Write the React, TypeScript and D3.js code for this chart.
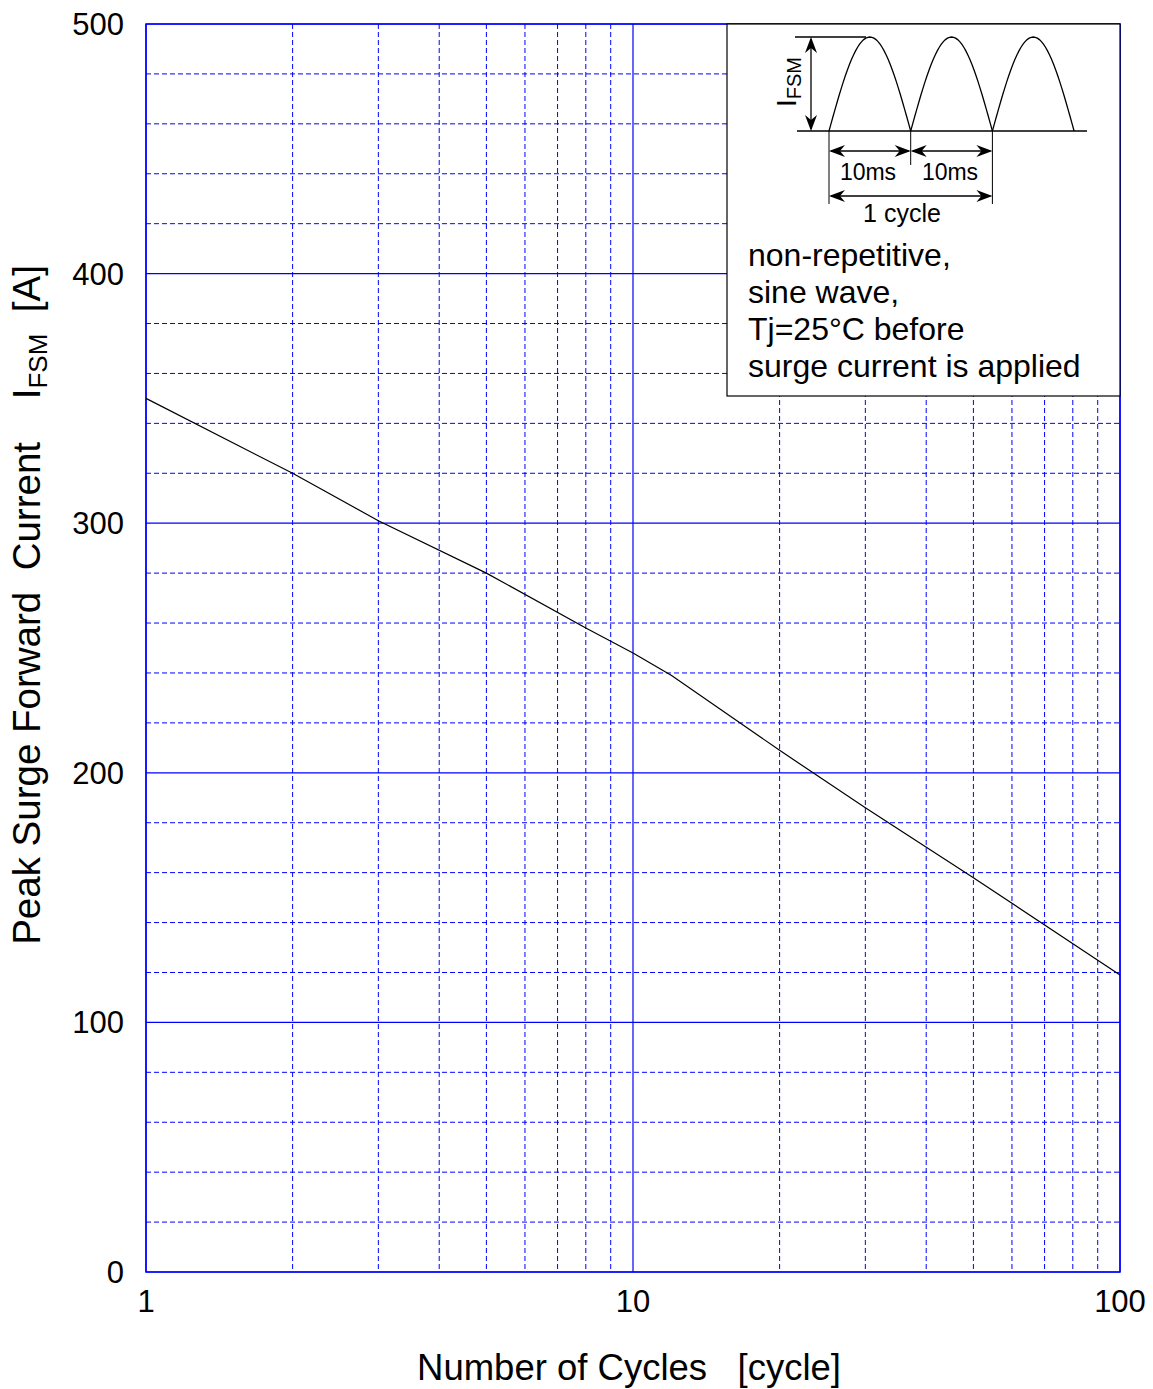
import React from 'react';
import * as d3 from 'd3';

// surge curve
const cycles = [1, 2, 3, 5, 8, 10, 12, 20, 30, 50, 100];
const current = [350, 320, 301, 280, 258, 248, 239, 209, 186, 158, 119];

const yTicks = [0, 100, 200, 300, 400, 500];
const yMinor = [20, 40, 60, 80, 120, 140, 160, 180, 220, 240, 260, 280, 320, 340, 360, 380, 420, 440, 460, 480];
const xMajor = [1, 10, 100];
const xMinor = [2, 3, 4, 5, 6, 7, 8, 9, 20, 30, 40, 50, 60, 70, 80, 90];

const noteLines = ['non-repetitive,', 'sine wave,', 'Tj=25°C before', 'surge current is applied'];

const W = 1153;
const H = 1389;
const m = { left: 146, right: 1120, top: 24, bottom: 1272 };
const blue = '#0000ff';
const font = '"Liberation Sans", Arial, sans-serif';

export default function App() {
  const x = d3.scaleLog().domain([1, 100]).range([m.left, m.right]);
  const y = d3.scaleLinear().domain([0, 500]).range([m.bottom, m.top]);
  const line = d3
    .line<number>()
    .x((d, i) => x(cycles[i]))
    .y(d => y(d));

  // inset waveform: three half sines
  const bx0 = 829;
  const half = 81.7;
  const base = 131;
  const amp = 94;
  const wave = (k: number) => {
    const pts: [number, number][] = d3.range(0, 41).map(j => [bx0 + k * half + (j / 40) * half, base - amp * Math.sin((Math.PI * j) / 40)]);
    return d3.line()(pts) as string;
  };
  const arrowH = (x1: number, x2: number, yy: number) => (
    <g>
      <line x1={x1 + 2} x2={x2 - 2} y1={yy} y2={yy} stroke="#000" strokeWidth={1.3} />
      <path d={`M${x1},${yy}L${x1 + 16},${yy - 6}L${x1 + 11},${yy}L${x1 + 16},${yy + 6}Z`} fill="#000" />
      <path d={`M${x2},${yy}L${x2 - 16},${yy - 6}L${x2 - 11},${yy}L${x2 - 16},${yy + 6}Z`} fill="#000" />
    </g>
  );

  return (
    <svg width={W} height={H} style={{ position: 'absolute', left: 0, top: 0, background: '#fff' }} fontFamily={font}>
      <rect width={W} height={H} fill="#fff" />
      {/* grid */}
      {yMinor.map(v => (
        <line key={'ym' + v} x1={m.left} x2={m.right} y1={y(v)} y2={y(v)} stroke={blue} strokeWidth={1} strokeDasharray="5,3" />
      ))}
      {xMinor.map(v => (
        <line key={'xm' + v} x1={x(v)} x2={x(v)} y1={m.top} y2={m.bottom} stroke={blue} strokeWidth={1} strokeDasharray="5,3" />
      ))}
      {yTicks.map(v => (
        <line key={'yt' + v} x1={m.left} x2={m.right} y1={y(v)} y2={y(v)} stroke={blue} strokeWidth={1.2} />
      ))}
      {xMajor.map(v => (
        <line key={'xt' + v} x1={x(v)} x2={x(v)} y1={m.top} y2={m.bottom} stroke={blue} strokeWidth={1.2} />
      ))}
      <rect x={m.left} y={m.top} width={m.right - m.left} height={m.bottom - m.top} fill="none" stroke={blue} strokeWidth={1.5} />

      {/* curve */}
      <path d={line(current) as string} fill="none" stroke="#000" strokeWidth={1.2} />

      {/* tick labels */}
      {yTicks.map(v => (
        <text key={'yl' + v} x={124} y={y(v) + 11} fontSize={31} textAnchor="end" fill="#000">
          {v}
        </text>
      ))}
      {xMajor.map(v => (
        <text key={'xl' + v} x={x(v)} y={1312} fontSize={31} textAnchor="middle" fill="#000">
          {v}
        </text>
      ))}

      {/* axis titles */}
      <text x={629} y={1380} fontSize={36.5} textAnchor="middle" fill="#000" style={{ whiteSpace: 'pre' }}>
        {'Number of Cycles   [cycle]'}
      </text>
      <text transform="translate(40,605) rotate(-90)" fontSize={38.5} textAnchor="middle" fill="#000" style={{ whiteSpace: 'pre' }}>
        {'Peak Surge Forward  Current    I'}
        <tspan fontSize={26} dy={7}>FSM</tspan>
        <tspan dy={-7}>{'  [A]'}</tspan>
      </text>

      {/* inset */}
      <rect x={727} y={m.top} width={m.right - 727} height={396 - m.top} fill="#fff" stroke="#000" strokeWidth={1.2} />
      <line x1={797} x2={1087} y1={base} y2={base} stroke="#000" strokeWidth={1.3} />
      <line x1={795} x2={866} y1={base - amp} y2={base - amp} stroke="#000" strokeWidth={1.3} />
      {[0, 1, 2].map(k => (
        <path key={'w' + k} d={wave(k)} fill="none" stroke="#000" strokeWidth={1.3} />
      ))}
      <line x1={811} x2={811} y1={base - amp + 2} y2={base - 2} stroke="#000" strokeWidth={1.3} />
      <path d={`M811,${base - amp}L805,${base - amp + 16}L811,${base - amp + 11}L817,${base - amp + 16}Z`} fill="#000" />
      <path d={`M811,${base}L805,${base - 16}L811,${base - 11}L817,${base - 16}Z`} fill="#000" />
      <text transform={`translate(796,${base - amp / 2 - 2}) rotate(-90)`} fontSize={28} textAnchor="middle" fill="#000">
        I<tspan fontSize={20} dy={5}>FSM</tspan>
      </text>
      <line x1={bx0} x2={bx0} y1={base} y2={204} stroke="#000" strokeWidth={1} />
      <line x1={bx0 + half} x2={bx0 + half} y1={base} y2={165} stroke="#000" strokeWidth={1} />
      <line x1={bx0 + 2 * half} x2={bx0 + 2 * half} y1={base} y2={204} stroke="#000" strokeWidth={1} />
      {arrowH(bx0, bx0 + half, 151)}
      {arrowH(bx0 + half, bx0 + 2 * half, 151)}
      {arrowH(bx0, bx0 + 2 * half, 196)}
      <text x={868} y={180} fontSize={23} textAnchor="middle" fill="#000">10ms</text>
      <text x={950} y={180} fontSize={23} textAnchor="middle" fill="#000">10ms</text>
      <text x={902} y={222} fontSize={25} textAnchor="middle" fill="#000">1 cycle</text>
      {noteLines.map((t, i) => (
        <text key={t} x={748} y={266 + i * 37} fontSize={32} fill="#000">
          {t}
        </text>
      ))}
    </svg>
  );
}
